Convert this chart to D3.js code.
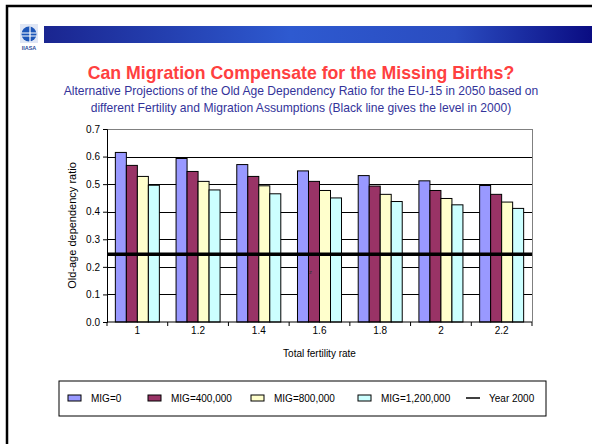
<!DOCTYPE html>
<html>
<head>
<meta charset="utf-8">
<script src="https://cdn.jsdelivr.net/npm/d3@7"></script>
<style>
  body { margin: 0; background: #fff; }
  svg { display: block; font-family: "Liberation Sans", Arial, sans-serif; }
  .axis path, .axis line { stroke: #000; }
  .axis text { font-size: 10px; fill: #000; }
</style>
</head>
<body>
<svg id="chart" width="592" height="444"></svg>
<script>
// data
var fertility = ["1", "1.2", "1.4", "1.6", "1.8", "2", "2.2"];
var series = ["MIG=0", "MIG=400,000", "MIG=800,000", "MIG=1,200,000"];
var mig0    = [0.615, 0.593, 0.571, 0.548, 0.531, 0.512, 0.495];
var mig400  = [0.568, 0.546, 0.528, 0.510, 0.493, 0.477, 0.463];
var mig800  = [0.528, 0.510, 0.494, 0.477, 0.463, 0.448, 0.435];
var mig1200 = [0.496, 0.479, 0.465, 0.450, 0.437, 0.425, 0.412];
var year2000 = 0.246;
var yTicks = [0, 0.1, 0.2, 0.3, 0.4, 0.5, 0.6, 0.7];

var colors = ["#9999ff", "#993366", "#ffffcc", "#ccffff"];
var values = [mig0, mig400, mig800, mig1200];

var svg = d3.select("#chart");

// slide frame
svg.append("path")
    .attr("d", "M7,460 L7,6 L600,6")
    .attr("fill", "none")
    .attr("stroke", "#000")
    .attr("stroke-width", 2.5);

// banner
var defs = svg.append("defs");
var grad = defs.append("linearGradient").attr("id", "banner");
grad.append("stop").attr("offset", "0%").attr("stop-color", "#1a2590");
grad.append("stop").attr("offset", "45%").attr("stop-color", "#2e5ad0");
grad.append("stop").attr("offset", "75%").attr("stop-color", "#2a4cc0");
grad.append("stop").attr("offset", "100%").attr("stop-color", "#0a0c82");
svg.append("rect")
    .attr("x", 44).attr("y", 26).attr("width", 548).attr("height", 17)
    .attr("fill", "url(#banner)");

// logo
var logo = svg.append("g").attr("transform", "translate(20,24)");
logo.append("rect").attr("width", 18).attr("height", 19).attr("fill", "#dfe6f5");
logo.append("circle").attr("cx", 9).attr("cy", 10).attr("r", 7.5).attr("fill", "#1d56b8");
logo.append("path")
    .attr("d", "M1.5,9 L16.5,9 M1.5,12 L16.5,12 M10,2.5 L10,18")
    .attr("stroke", "#fff").attr("stroke-width", 1.2);
logo.append("text")
    .attr("x", 9).attr("y", 26)
    .attr("text-anchor", "middle")
    .attr("font-size", 5.5)
    .attr("font-weight", "bold")
    .attr("fill", "#2a4a9a")
    .text("IIASA");

// titles
svg.append("text")
    .attr("x", 301).attr("y", 79)
    .attr("text-anchor", "middle")
    .attr("font-size", 17.7)
    .attr("font-weight", "bold")
    .attr("fill", "#ff4040")
    .text("Can Migration Compensate for the Missing Births?");
svg.append("text")
    .attr("x", 301).attr("y", 95)
    .attr("text-anchor", "middle")
    .attr("font-size", 12.1)
    .attr("fill", "#33339a")
    .text("Alternative Projections of the Old Age Dependency Ratio for the EU-15 in 2050 based on");
svg.append("text")
    .attr("x", 301).attr("y", 112)
    .attr("text-anchor", "middle")
    .attr("font-size", 12.1)
    .attr("fill", "#33339a")
    .text("different Fertility and Migration Assumptions (Black line gives the level in 2000)");

// plot area
var plotLeft = 107, plotRight = 532, plotTop = 129, plotBottom = 322;
var pad = 0.275;

var x0 = d3.scaleBand()
    .domain(fertility)
    .range([plotLeft, plotRight])
    .paddingInner(pad)
    .paddingOuter(pad / 2);
var x1 = d3.scaleBand()
    .domain(series)
    .range([0, x0.bandwidth()]);
var y = d3.scaleLinear()
    .domain([0, 0.7])
    .range([plotBottom, plotTop]);

// gridlines
svg.append("g")
  .selectAll("line")
  .data(yTicks.slice(1))
  .join("line")
    .attr("x1", plotLeft).attr("x2", plotRight)
    .attr("y1", function(d) { return Math.round(y(d)) + 0.5; })
    .attr("y2", function(d) { return Math.round(y(d)) + 0.5; })
    .attr("stroke", function(d) { return d == 0.7 ? "#808080" : "#000"; })
    .attr("stroke-width", 1);
svg.append("line")
    .attr("x1", plotRight + 0.5).attr("x2", plotRight + 0.5)
    .attr("y1", plotTop).attr("y2", plotBottom)
    .attr("stroke", "#808080");

// bars
var groups = svg.append("g")
  .selectAll("g")
  .data(fertility)
  .join("g")
    .attr("transform", function(d) { return "translate(" + x0(d) + ",0)"; });

groups.selectAll("rect")
  .data(function(d, i) { return values.map(function(v, j) { return {s: series[j], v: v[i], c: colors[j]}; }); })
  .join("rect")
    .attr("x", function(d) { return x1(d.s); })
    .attr("y", function(d) { return y(d.v); })
    .attr("width", x1.bandwidth())
    .attr("height", function(d) { return y(0) - y(d.v); })
    .attr("fill", function(d) { return d.c; })
    .attr("stroke", "#000")
    .attr("stroke-width", 1);

// stray mark in the original
svg.append("text")
    .attr("x", 309).attr("y", 274)
    .attr("font-size", 6)
    .attr("fill", "#333")
    .text("z");

// year 2000 level
svg.append("line")
    .attr("x1", plotLeft).attr("x2", plotRight)
    .attr("y1", y(year2000)).attr("y2", y(year2000))
    .attr("stroke", "#000")
    .attr("stroke-width", 3.5);

// axes
svg.append("g")
    .attr("class", "axis")
    .attr("transform", "translate(" + plotLeft + ",0)")
    .call(d3.axisLeft(y).tickValues(yTicks).tickSize(4).tickFormat(d3.format(".1f")));

var step = x0.step();
var xAxis = svg.append("g").attr("class", "axis");
xAxis.append("line")
    .attr("x1", plotLeft).attr("x2", plotRight)
    .attr("y1", plotBottom).attr("y2", plotBottom)
    .attr("stroke", "#000");
xAxis.selectAll(".tick")
  .data(d3.range(fertility.length + 1))
  .join("line")
    .attr("x1", function(i) { return plotLeft + i * step; })
    .attr("x2", function(i) { return plotLeft + i * step; })
    .attr("y1", plotBottom).attr("y2", plotBottom + 4)
    .attr("stroke", "#000");
xAxis.selectAll("text")
  .data(fertility)
  .join("text")
    .attr("x", function(d) { return x0(d) + x0.bandwidth() / 2; })
    .attr("y", 334)
    .attr("text-anchor", "middle")
    .text(function(d) { return d; });

svg.append("text")
    .attr("x", (plotLeft + plotRight) / 2).attr("y", 357)
    .attr("text-anchor", "middle")
    .attr("font-size", 10)
    .text("Total fertility rate");
svg.append("text")
    .attr("transform", "translate(76," + ((plotTop + plotBottom) / 2) + ") rotate(-90)")
    .attr("text-anchor", "middle")
    .attr("font-size", 11)
    .text("Old-age dependency ratio");

// legend
var legend = svg.append("g");
legend.append("rect")
    .attr("x", 59).attr("y", 381).attr("width", 487).attr("height", 35)
    .attr("fill", "#fff")
    .attr("stroke", "#000")
    .attr("stroke-width", 1);
var legendX = [68, 148, 251, 358];
series.forEach(function(s, i) {
    legend.append("rect")
        .attr("x", legendX[i]).attr("y", 395)
        .attr("width", 13).attr("height", 6)
        .attr("fill", colors[i])
        .attr("stroke", "#000");
    legend.append("text")
        .attr("x", legendX[i] + 23).attr("y", 402)
        .attr("font-size", 10)
        .text(s);
});
legend.append("line")
    .attr("x1", 466).attr("x2", 480)
    .attr("y1", 398).attr("y2", 398)
    .attr("stroke", "#000").attr("stroke-width", 1.5);
legend.append("text")
    .attr("x", 489).attr("y", 402)
    .attr("font-size", 10)
    .text("Year 2000");
</script>
</body>
</html>
